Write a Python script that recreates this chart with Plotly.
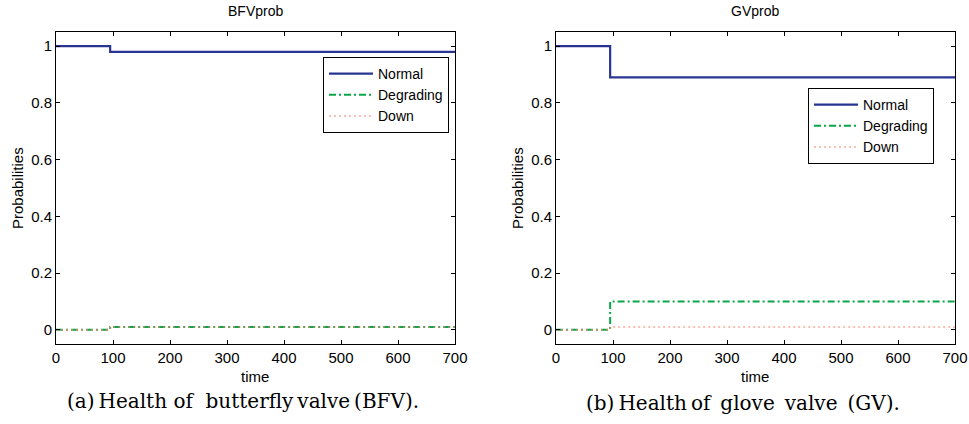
import plotly.graph_objects as go

time = [0, 95, 700]
bfv_normal = [1.0, 0.98, 0.98]
bfv_degrading = [0.0, 0.01, 0.01]
bfv_down = [0.0, 0.01, 0.01]
gv_normal = [1.0, 0.89, 0.89]
gv_degrading = [0.0, 0.10, 0.10]
gv_down = [0.0, 0.01, 0.01]
series_names = ["Normal", "Degrading", "Down"]
x_ticks = [0, 100, 200, 300, 400, 500, 600, 700]
y_ticks = [0, 0.2, 0.4, 0.6, 0.8, 1]
y_tick_text = ["0", "0.2", "0.4", "0.6", "0.8", "1"]

colors = ["#283593", "#0aa64a", "#f2836b"]
dashes = ["solid", "7px,3px,2px,3px", "2px,3px"]
widths = [2.2, 2.0, 1.2]

FONT = "Liberation Sans"
SERIF = "DejaVu Serif"
W, H = 969, 424


def fx(x):
    return x / W


def fy(y):
    return (H - y) / H


fig = go.Figure()

for vals, xa, ya, lg in [
    ((bfv_normal, bfv_degrading, bfv_down), "x", "y", "legend"),
    ((gv_normal, gv_degrading, gv_down), "x2", "y2", "legend2"),
]:
    for i, v in enumerate(vals):
        fig.add_trace(go.Scatter(
            x=time, y=v, mode="lines", name=series_names[i],
            line=dict(color=colors[i], width=widths[i], dash=dashes[i], shape="hv"),
            xaxis=xa, yaxis=ya, legend=lg, showlegend=True,
        ))

axis_common = dict(showgrid=False, zeroline=False, showline=True, linecolor="black",
                   linewidth=1, mirror="ticks", ticks="inside", ticklen=4, automargin=False,
                   tickcolor="black", tickfont=dict(family=FONT, size=15, color="black"))

ydom = [fy(344), fy(32)]
leg_common = dict(xanchor="left", yanchor="top", bordercolor="black", borderwidth=1,
                  bgcolor="white", font=dict(family=FONT, size=14, color="black"),
                  tracegroupgap=0, itemwidth=44)
fig.update_layout(
    width=W, height=H,
    margin=dict(l=0, r=0, t=0, b=0, autoexpand=False),
    paper_bgcolor="white", plot_bgcolor="white",
    font=dict(family=FONT, color="black"),
    xaxis=dict(domain=[fx(56), fx(455)], range=[0, 700], tickvals=x_ticks, anchor="y", **axis_common),
    yaxis=dict(domain=ydom, range=[-0.05, 1.05], tickvals=y_ticks, ticktext=y_tick_text, anchor="x", **axis_common),
    xaxis2=dict(domain=[fx(556), fx(955)], range=[0, 700], tickvals=x_ticks, anchor="y2", **axis_common),
    yaxis2=dict(domain=ydom, range=[-0.05, 1.05], tickvals=y_ticks, ticktext=y_tick_text, anchor="x2", **axis_common),
    legend=dict(x=fx(323), y=fy(57), **leg_common),
    legend2=dict(x=fx(808), y=fy(88), **leg_common),
    showlegend=True,
)


def ann(text, x, y, size, family=FONT, angle=0):
    fig.add_annotation(text=text, x=fx(x), y=fy(y), xref="paper", yref="paper",
                       showarrow=False, font=dict(family=family, size=size, color="black"),
                       xanchor="center", yanchor="middle", textangle=angle)


ann("BFVprob", 255, 11, 14)
ann("GVprob", 755, 11, 14)
ann("time", 255, 376, 15)
ann("time", 755, 376, 15)
ann("Probabilities", 17, 188, 15, angle=-90)
ann("Probabilities", 517, 188, 15, angle=-90)
ann("(a)\u2009Health of  butterfly\u2009valve\u2009(BFV).", 243, 401, 20, SERIF)
ann("(b)\u2009Health\u2009of\u2002glove\u2002valve\u2002(GV).", 743, 403, 20, SERIF)

fig.write_html("out.html", config={"displayModeBar": False},
               post_script="document.body.style.margin='0';document.body.style.overflow='hidden';")
